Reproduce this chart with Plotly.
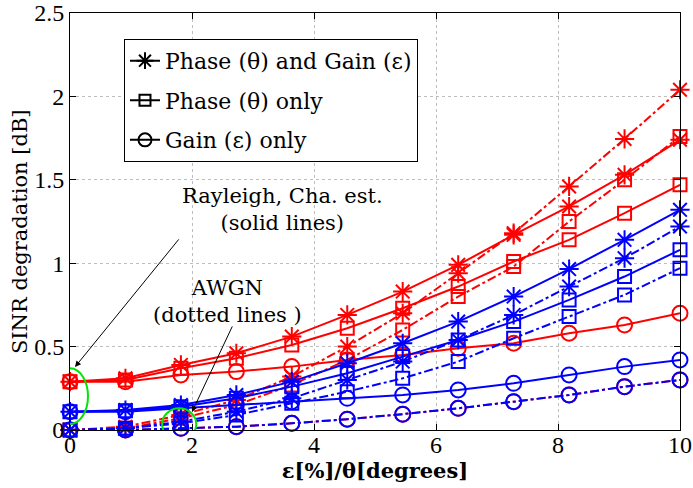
import plotly.graph_objects as go

x = [0, 0.909, 1.818, 2.727, 3.636, 4.545, 5.454, 6.364, 7.273, 8.182, 9.091, 10]

# Red group
red_ray_pg = [0.29, 0.31, 0.39, 0.46, 0.56, 0.69, 0.83, 0.99, 1.17, 1.34, 1.53, 1.74]
red_ray_p = [0.29, 0.30, 0.37, 0.43, 0.51, 0.61, 0.73, 0.86, 1.01, 1.14, 1.30, 1.47]
red_ray_g = [0.29, 0.29, 0.33, 0.35, 0.38, 0.42, 0.45, 0.49, 0.52, 0.58, 0.63, 0.70]
red_awgn_pg = [0.0, 0.02, 0.09, 0.18, 0.32, 0.50, 0.70, 0.94, 1.18, 1.46, 1.745, 2.04]
red_awgn_p = [0.0, 0.01, 0.07, 0.15, 0.27, 0.42, 0.60, 0.80, 0.98, 1.25, 1.50, 1.76]
red_awgn_g = [0.0, 0.0, 0.01, 0.02, 0.04, 0.065, 0.095, 0.13, 0.17, 0.21, 0.26, 0.30]

# Blue group
blue_ray_pg = [0.11, 0.12, 0.15, 0.21, 0.29, 0.40, 0.52, 0.65, 0.80, 0.965, 1.14, 1.32]
blue_ray_p = [0.11, 0.115, 0.14, 0.19, 0.26, 0.34, 0.44, 0.54, 0.65, 0.78, 0.92, 1.08]
blue_ray_g = [0.11, 0.11, 0.13, 0.15, 0.17, 0.19, 0.21, 0.24, 0.28, 0.33, 0.38, 0.42]
blue_awgn_pg = [0.0, 0.01, 0.05, 0.11, 0.19, 0.30, 0.41, 0.54, 0.69, 0.86, 1.03, 1.22]
blue_awgn_p = [0.0, 0.01, 0.04, 0.09, 0.16, 0.23, 0.31, 0.41, 0.55, 0.68, 0.81, 0.97]
blue_awgn_g = [0.0, 0.0, 0.01, 0.02, 0.04, 0.065, 0.095, 0.13, 0.17, 0.21, 0.26, 0.30]

legend_labels = ["Phase (\u03b8) and Gain (\u03b5)", "Phase (\u03b8) only", "Gain (\u03b5) only"]
x_ticks = [0, 2, 4, 6, 8, 10]
y_ticks = [0, 0.5, 1, 1.5, 2, 2.5]
y_tick_text = ["0", "0.5", "1", "1.5", "2", "2.5"]

TICKFONT = "Liberation Serif"
FONT = "DejaVu Serif"
RED = "rgb(255,0,0)"
BLUE = "rgb(0,0,255)"

symbols = {"pg": "asterisk-open", "p": "square-open", "g": "circle-open"}
sizes = {"pg": 16, "p": 13, "g": 15}

fig = go.Figure()

series = [
    (red_awgn_g, RED, "dashdot", "g"),
    (red_ray_g, RED, "solid", "g"),
    (red_ray_p, RED, "solid", "p"),
    (red_ray_pg, RED, "solid", "pg"),
    (red_awgn_p, RED, "dashdot", "p"),
    (red_awgn_pg, RED, "dashdot", "pg"),
    (blue_ray_g, BLUE, "solid", "g"),
    (blue_ray_p, BLUE, "solid", "p"),
    (blue_ray_pg, BLUE, "solid", "pg"),
    (blue_awgn_p, BLUE, "dashdot", "p"),
    (blue_awgn_pg, BLUE, "dashdot", "pg"),
    (blue_awgn_g, BLUE, "dashdot", "g"),
]
for vals, col, dash, kind in series:
    fig.add_trace(go.Scatter(
        x=x, y=vals, mode="lines+markers", showlegend=False, cliponaxis=False,
        line=dict(color=col, width=2, dash=dash),
        marker=dict(symbol=symbols[kind], size=sizes[kind], color=col,
                    line=dict(color=col, width=2)),
    ))

for i, (lab, kind) in enumerate(zip(legend_labels, ["pg", "p", "g"])):
    fig.add_trace(go.Scatter(
        x=[None], y=[None], mode="lines+markers", name=lab, legendgroup=f"g{i}",
        line=dict(color="black", width=2),
        marker=dict(symbol=symbols[kind], size=sizes[kind] - 2, color="black",
                    line=dict(color="black", width=2)),
    ))

# Green ellipses
fig.add_shape(type="circle", xref="x", yref="y", x0=-0.295, x1=0.295, y0=0.036, y1=0.37,
              line=dict(color="rgb(0,230,0)", width=2))
fig.add_shape(type="circle", xref="x", yref="y", x0=1.51, x1=2.07, y0=-0.06, y1=0.13,
              line=dict(color="rgb(0,230,0)", width=2))

# Text annotations
fig.add_annotation(x=3.49, y=1.32, xref="x", yref="y", showarrow=False,
                   text="Rayleigh, Cha. est.<br>(solid lines)", align="center",
                   font=dict(family=FONT, size=21, color="black"))
fig.add_annotation(x=2.59, y=0.77, xref="x", yref="y", showarrow=False,
                   text="AWGN<br>(dotted lines )", align="center",
                   font=dict(family=FONT, size=21, color="black"))
# Y axis title (placed slightly below centre as in the reference)
fig.add_annotation(x=-0.082, y=0.477, xref="paper", yref="paper", showarrow=False,
                   text="SINR degradation [dB]", textangle=-90,
                   xanchor="center", yanchor="middle",
                   font=dict(family=FONT, size=21, color="black"))
# Arrows
fig.add_annotation(x=0.082, y=0.378, ax=1.803, ay=1.152, xref="x", yref="y",
                   axref="x", ayref="y", showarrow=True, arrowhead=2, arrowsize=1.2,
                   arrowwidth=1, arrowcolor="black", text="")
fig.add_annotation(x=2.0, y=0.108, ax=2.672, ay=0.63, xref="x", yref="y",
                   axref="x", ayref="y", showarrow=True, arrowhead=2, arrowsize=1.2,
                   arrowwidth=1, arrowcolor="black", text="")

axis_common = dict(
    showline=True, linecolor="black", linewidth=1, mirror="ticks",
    ticks="inside", ticklen=6, tickcolor="black", automargin=False,
    showgrid=True, gridcolor="rgb(190,190,190)", griddash="dot", gridwidth=1,
    zeroline=False, tickfont=dict(family=TICKFONT, size=24, color="black"),
    ticklabeloverflow="allow",
)

fig.update_xaxes(range=[0, 10], tickvals=x_ticks, ticklabelstandoff=-7, **axis_common,
                 title=dict(text="<b>\u03b5[%]/\u03b8[degrees]</b>", standoff=0,
                            font=dict(family=FONT, size=21, color="black")))
fig.update_yaxes(range=[0, 2.5], tickvals=y_ticks, ticktext=y_tick_text, **axis_common)

fig.update_layout(
    width=693, height=488,
    margin=dict(l=70, r=13, t=13, b=58),
    plot_bgcolor="white", paper_bgcolor="white",
    legend=dict(x=0.0885, y=0.938, xanchor="left", yanchor="top",
                bordercolor="black", borderwidth=1, bgcolor="white",
                font=dict(family=FONT, size=22, color="black"),
                tracegroupgap=8, traceorder="grouped", itemwidth=30),
)

fig.write_html("out.html", config={"displayModeBar": False},
               post_script="document.body.style.margin='0px';")
